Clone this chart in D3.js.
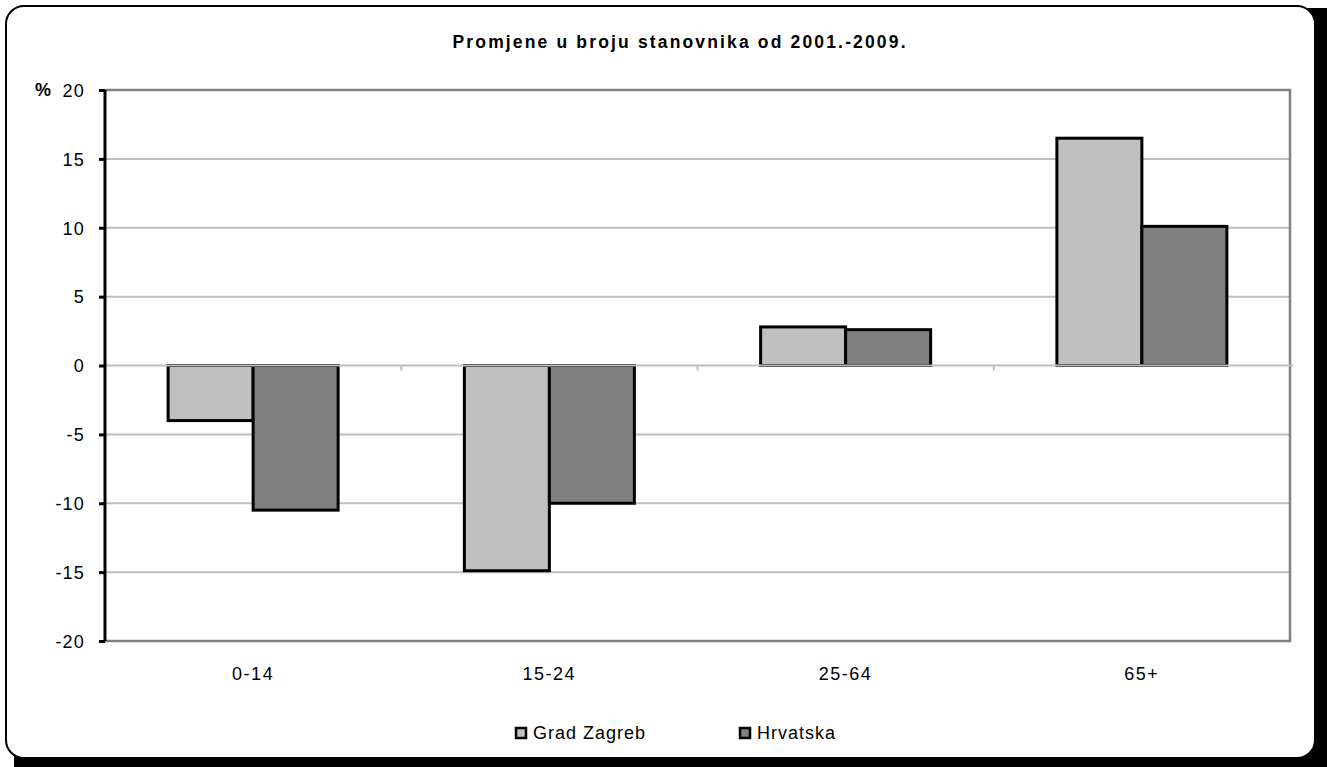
<!DOCTYPE html>
<html><head><meta charset="utf-8">
<script src="https://cdn.jsdelivr.net/npm/d3@7"></script>
<style>body{margin:0;background:#fff}svg{display:block}text{font-family:"Liberation Sans",Arial,sans-serif}</style>
</head><body><svg id="c" width="1327" height="767"></svg>
<script>
const title = "Promjene u broju stanovnika od 2001.-2009.";
const categories = ["0-14", "15-24", "25-64", "65+"];
const seriesNames = ["Grad Zagreb", "Hrvatska"];
const zagreb = [-4.0, -14.9, 2.8, 16.5];
const hrvatska = [-10.5, -10.0, 2.6, 10.1];
const yTicks = [-20, -15, -10, -5, 0, 5, 10, 15, 20];
const colors = ["#c0c0c0", "#808080"];

const svg = d3.select("#c");
// frame with shadow
svg.append("rect").attr("x", 14).attr("y", 8).attr("width", 1340).attr("height", 790).attr("rx", 18).attr("fill", "#000");
svg.append("rect").attr("x", 6).attr("y", 6).attr("width", 1309).attr("height", 752).attr("rx", 18)
  .attr("fill", "#fff").attr("stroke", "#000").attr("stroke-width", 2);

const L = 105, R = 1290, T = 90, B = 641;
const x = d3.scaleBand().domain(categories).range([L, R]);
const barW = 85;
const y = d3.scaleLinear().domain([-20, 20]).range([B, T]);

// gridlines
svg.append("g").selectAll("line").data(yTicks.filter(t => t !== 20 && t !== -20 && t !== 0)).join("line")
  .attr("x1", L).attr("x2", R).attr("y1", d => y(d)).attr("y2", d => y(d))
  .attr("stroke", "#c0c0c0").attr("stroke-width", 2);

// plot border (gray)
svg.append("path").attr("d", `M${L},${T}H${R}V${B}H${L}`).attr("fill", "none").attr("stroke", "#808080").attr("stroke-width", 2.5);

// bars
const data = [];
categories.forEach((c, i) => {
  data.push({c, s: 0, v: zagreb[i]});
  data.push({c, s: 1, v: hrvatska[i]});
});
const off = (x.bandwidth() - 2 * barW) / 2;
svg.append("g").selectAll("rect").data(data).join("rect")
  .attr("x", d => x(d.c) + off + d.s * barW)
  .attr("width", barW)
  .attr("y", d => y(Math.max(0, d.v)))
  .attr("height", d => Math.abs(y(d.v) - y(0)))
  .attr("fill", d => colors[d.s]).attr("stroke", "#000").attr("stroke-width", 3);

// zero line
svg.append("line").attr("x1", L).attr("x2", R + 3).attr("y1", y(0)).attr("y2", y(0)).attr("stroke", "#c0c0c0").attr("stroke-width", 2);
// category tick marks on zero line
svg.append("g").selectAll("line").data(categories.slice(1)).join("line")
  .attr("x1", d => x(d)).attr("x2", d => x(d)).attr("y1", y(0)).attr("y2", y(0) + 5)
  .attr("stroke", "#c0c0c0").attr("stroke-width", 2);

// y axis
const yAxis = d3.axisLeft(y).tickValues(yTicks).tickSize(6).tickPadding(14).tickFormat(d => String(d));
const ga = svg.append("g").attr("transform", `translate(${L},0)`).call(yAxis);
ga.attr("font-size", 18).attr("font-family", "Liberation Sans, Arial, sans-serif");
ga.select(".domain").attr("stroke", "#000").attr("stroke-width", 3).attr("d", `M0,${T}V${B}`);
ga.selectAll(".tick line").attr("stroke", "#000").attr("stroke-width", 3);
ga.selectAll(".tick text").attr("fill", "#000").attr("dy", "0.35em").attr("letter-spacing", 1.2);
svg.append("text").attr("x", 35).attr("y", y(20)).attr("dy", "0.35em").attr("font-size", 18).attr("font-weight", "bold").text("%");

// x labels
svg.append("g").selectAll("text").data(categories).join("text")
  .attr("x", d => x(d) + x.bandwidth() / 2).attr("y", 674).attr("dy", "0.35em")
  .attr("text-anchor", "middle").attr("font-size", 18).attr("letter-spacing", 1.5).text(d => d);

// title
svg.append("text").attr("x", 679).attr("y", 42).attr("dy", "0.35em").attr("text-anchor", "middle")
  .attr("font-size", 17.5).attr("font-weight", "bold").attr("textLength", 453).attr("lengthAdjust", "spacing").text(title);

// legend
const legX = [515, 739];
const lg = svg.append("g").selectAll("g").data(seriesNames).join("g").attr("transform", (d, i) => `translate(${legX[i]},733)`);
lg.append("rect").attr("x", 1).attr("y", -5).attr("width", 10).attr("height", 10)
  .attr("fill", (d, i) => colors[i]).attr("stroke", "#000").attr("stroke-width", 2.5);
lg.append("text").attr("x", 18).attr("dy", "0.35em").attr("font-size", 18).attr("letter-spacing", 1).text(d => d);
</script></body></html>
